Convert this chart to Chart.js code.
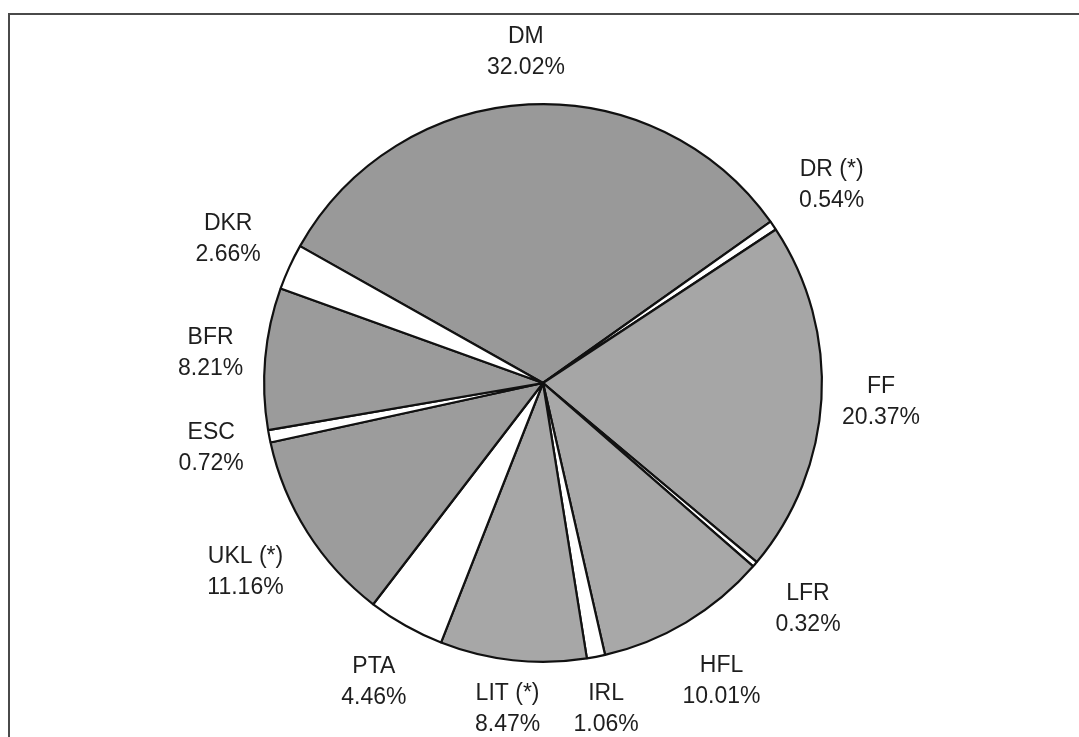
<!DOCTYPE html>
<html>
<head>
<meta charset="utf-8">
<script src="https://cdn.jsdelivr.net/npm/chart.js@4"></script>
<style>
  html, body { margin: 0; padding: 0; background: #ffffff; }
  #wrap { position: relative; width: 1079px; height: 737px; overflow: hidden; background: #ffffff; }
  #frame { position: absolute; left: 8px; top: 13px; right: -10px; bottom: -10px;
           border-top: 2px solid #4a4a4a; border-left: 2px solid #4a4a4a; }
  canvas { position: absolute; left: 0; top: 0; }
</style>
</head>
<body>
<div id="wrap">
  <div id="frame"></div>
  <canvas id="c" width="1079" height="737"></canvas>
</div>
<script>
const categories = ['DM', 'DR (*)', 'FF', 'LFR', 'HFL', 'IRL', 'LIT (*)', 'PTA', 'UKL (*)', 'ESC', 'BFR', 'DKR'];
const shares = [32.02, 0.54, 20.37, 0.32, 10.01, 1.06, 8.47, 4.46, 11.16, 0.72, 8.21, 2.66];
const sliceColors = ['#999999', '#ffffff', '#a6a6a6', '#ffffff', '#a8a8a8', '#ffffff',
                     '#a7a7a7', '#ffffff', '#9c9c9c', '#ffffff', '#9b9b9b', '#ffffff'];

const labelPlugin = {
  id: 'outsideLabels',
  afterDatasetsDraw(chart) {
    const ctx = chart.ctx;
    const meta = chart.getDatasetMeta(0);
    ctx.save();
    ctx.font = '23px "Liberation Sans", Arial, sans-serif';
    ctx.fillStyle = '#1e1e1e';
    ctx.textAlign = 'center';
    ctx.textBaseline = 'middle';
    const lineH = 31;
    meta.data.forEach((arc, i) => {
      const p = arc.getProps(['x', 'y', 'startAngle', 'endAngle', 'outerRadius'], true);
      const mid = (p.startAngle + p.endAngle) / 2;
      const l1 = chart.data.labels[i];
      const l2 = shares[i].toFixed(2) + '%';
      const halfW = Math.max(ctx.measureText(l1).width, ctx.measureText(l2).width) / 2;
      const halfH = lineH;
      const c = Math.cos(mid), s = Math.sin(mid);
      const ext = Math.abs(c) * halfW + Math.abs(s) * halfH;
      const gap = 18 + 9 * Math.abs(Math.sin(2 * mid)) - 5 * Math.max(0, s) * Math.max(0, s);
      const d = p.outerRadius + gap + ext;
      const cx = p.x + c * d;
      const cy = p.y + s * d;
      ctx.fillText(l1, cx, cy - lineH / 2);
      ctx.fillText(l2, cx, cy + lineH / 2);
    });
    ctx.restore();
  }
};

new Chart(document.getElementById('c'), {
  type: 'pie',
  data: {
    labels: categories,
    datasets: [{
      data: shares,
      backgroundColor: sliceColors,
      borderColor: '#111111',
      borderWidth: 2.2
    }]
  },
  options: {
    responsive: false,
    animation: false,
    rotation: -60.6,
    layout: { padding: { left: 263, right: 256, top: 103, bottom: 74 } },
    plugins: { legend: { display: false }, tooltip: { enabled: false } }
  },
  plugins: [labelPlugin]
});
</script>
</body>
</html>
